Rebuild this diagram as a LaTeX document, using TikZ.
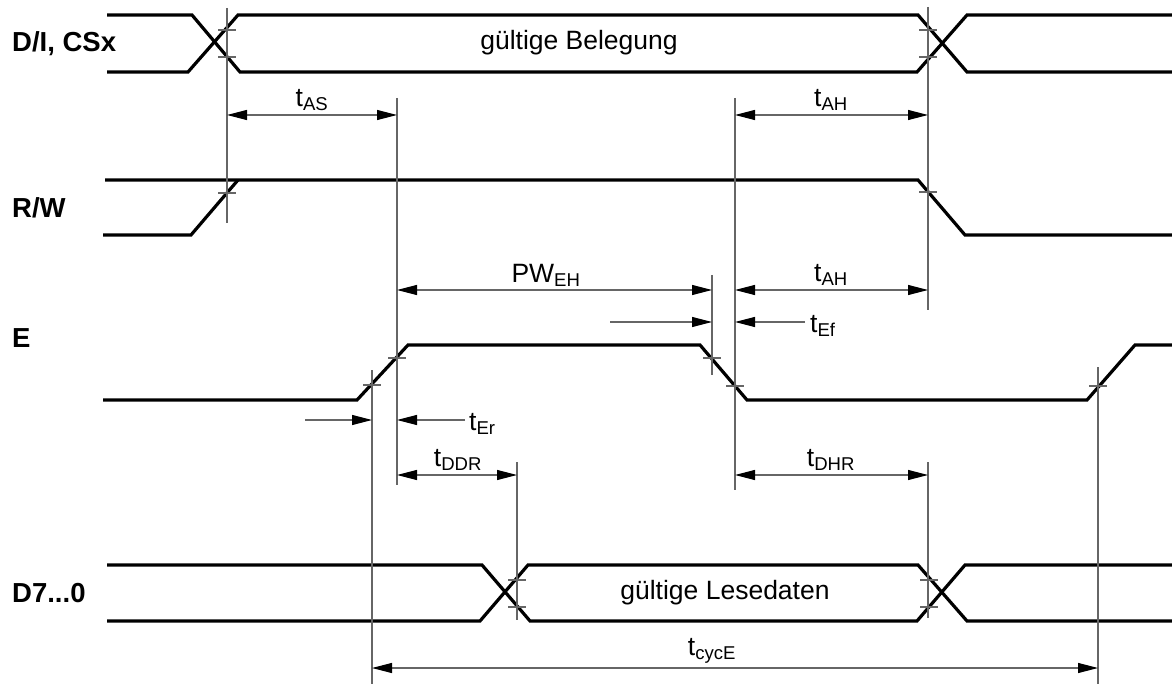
\documentclass[tikz,border=0pt]{standalone}
\usepackage{fontspec}
\setmainfont{Liberation Sans}
\usetikzlibrary{arrows.meta}
\tikzset{
  sig/.style={line width=3.2pt, black, line join=miter},
  thinl/.style={line width=1.1pt, black!60},
  dim/.style={thinl, {Triangle[length=20pt,width=10pt,color=black,fill=black]}-{Triangle[length=20pt,width=10pt,color=black,fill=black]}},
  dimr/.style={thinl, -{Triangle[length=20pt,width=10pt,color=black,fill=black]}},
  lbl/.style={font=\fontsize{26.5}{30}\selectfont, inner sep=0pt},
  signame/.style={font=\fontsize{27.5}{32}\selectfont\bfseries, inner sep=0pt, anchor=west},
  tck/.style={thinl},
}
\begin{document}
\begin{tikzpicture}[x=1pt,y=-1pt]
\useasboundingbox (0,0) rectangle (1172,684);

% ---- signal names
\node[signame] (nDI) at (12,44) {D/I, CSx};
\node[signame] (nRW) at (12,208) {R/W};
\node[signame] (nE)  at (12,338) {E};
\node[signame] (nD)  at (12,593) {D7...0};

% ---- D/I, CSx
\draw[sig] (107,15)--(192,15)--(240,72)--(917,72)--(967,15)--(1172,15);
\draw[sig] (107,72)--(188,72)--(238,15)--(918,15)--(967,72)--(1172,72);
\node[lbl] (gb) at (579,43) {gültige Belegung};

% ---- R/W
\draw[sig] (105,180)--(918,180)--(965,235)--(1172,235);
\draw[sig] (103,235)--(191,235)--(238,180);

% ---- E
\draw[sig] (103,400)--(357,400)--(408,345)--(700,345)--(747,400)--(1087,400)--(1135,345)--(1172,345);

% ---- D7...0
\draw[sig] (107,565)--(482,565)--(530,621)--(917,621)--(965,565)--(1172,565);
\draw[sig] (107,621)--(480,621)--(528,565)--(918,565)--(967,621)--(1172,621);
\node[lbl] (gl) at (725,593) {gültige Lesedaten};

% ---- reference verticals
\coordinate (vA1) at (227,8);    \coordinate (vA2) at (227,223);
\coordinate (vB1) at (397,98);   \coordinate (vB2) at (397,485);
\coordinate (vC1) at (735,98);   \coordinate (vC2) at (735,490);
\coordinate (vD1) at (928,7);    \coordinate (vD2) at (928,310);
\coordinate (vD3) at (928,462);  \coordinate (vD4) at (928,618);
\coordinate (vF1) at (712,275);  \coordinate (vF2) at (712,375);
\coordinate (vG1) at (372,370);  \coordinate (vG2) at (372,684);
\coordinate (vH1) at (1098,367); \coordinate (vH2) at (1098,684);
\coordinate (vI1) at (517,462);  \coordinate (vI2) at (517,620);
\draw[thinl] (vA1)--(vA2);
\draw[thinl] (vB1)--(vB2);
\draw[thinl] (vC1)--(vC2);
\draw[thinl] (vD1)--(vD2);
\draw[thinl] (vD3)--(vD4);
\draw[thinl] (vF1)--(vF2);
\draw[thinl] (vG1)--(vG2);
\draw[thinl] (vH1)--(vH2);
\draw[thinl] (vI1)--(vI2);

% ---- ticks
\foreach \x/\y in {227/30,227/57,928/30,928/57,227/193,928/192,
                   372/385,397/358,712/358,735/386,1098/386,
                   517/580,517/607,929/580,929/607}
  \draw[tck] (\x-9,\y)--(\x+9,\y);

% ---- dimensions
\coordinate (aS1) at (227,115); \coordinate (aS2) at (397,115);
\draw[dim] (aS1)--(aS2);
\node[lbl] (tAS) at (312,100) {t\textsubscript{AS}};

\coordinate (aH1) at (735,115); \coordinate (aH2) at (928,115);
\draw[dim] (aH1)--(aH2);
\node[lbl] (tAH1) at (831,100) {t\textsubscript{AH}};

\coordinate (pw1) at (397,290); \coordinate (pw2) at (712,290);
\draw[dim] (pw1)--(pw2);
\node[lbl] (tPW) at (546,275) {PW\textsubscript{EH}};

\coordinate (aH3) at (735,290); \coordinate (aH4) at (928,290);
\draw[dim] (aH3)--(aH4);
\node[lbl] (tAH2) at (831,275) {t\textsubscript{AH}};

\coordinate (ef0) at (610,322); \coordinate (ef1) at (712,322);
\coordinate (ef2) at (735,322); \coordinate (ef3) at (805,322);
\draw[dimr] (ef0)--(ef1);
\draw[dimr] (ef3)--(ef2);
\node[lbl,anchor=west] (tEf) at (810,326) {t\textsubscript{Ef}};

\coordinate (er0) at (305,420); \coordinate (er1) at (372,420);
\coordinate (er2) at (397,420); \coordinate (er3) at (465,420);
\draw[dimr] (er0)--(er1);
\draw[dimr] (er3)--(er2);
\node[lbl,anchor=west] (tEr) at (469,424) {t\textsubscript{Er}};

\coordinate (dd1) at (397,475); \coordinate (dd2) at (517,475);
\draw[dim] (dd1)--(dd2);
\node[lbl] (tDDR) at (458,460) {t\textsubscript{DDR}};

\coordinate (dh1) at (735,475); \coordinate (dh2) at (928,475);
\draw[dim] (dh1)--(dh2);
\node[lbl] (tDHR) at (831,460) {t\textsubscript{DHR}};

\coordinate (cy1) at (372,668); \coordinate (cy2) at (1098,668);
\draw[dim] (cy1)--(cy2);
\node[lbl] (tcyc) at (712,651) {t\textsubscript{cycE}};
\end{tikzpicture}
\end{document}
